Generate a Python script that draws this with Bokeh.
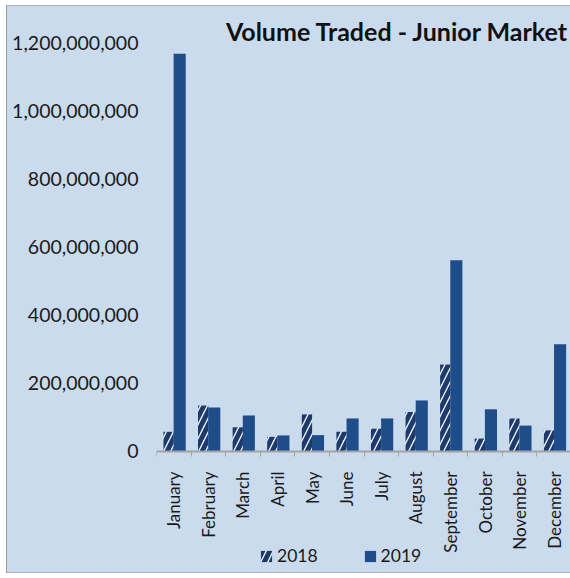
import math
from bokeh.plotting import figure
from bokeh.models import (ColumnDataSource, Range1d, FixedTicker, NumeralTickFormatter,
                          Label, Legend, LegendItem)
from bokeh.transform import dodge
from bokeh.embed import file_html
from bokeh.resources import INLINE

months = ["January", "February", "March", "April", "May", "June", "July",
          "August", "September", "October", "November", "December"]
vol_2018 = [58e6, 135e6, 71e6, 43e6, 109e6, 58e6, 67e6, 116e6, 256e6, 38e6, 97e6, 62e6]
vol_2019 = [1170e6, 129e6, 106e6, 47e6, 48e6, 97e6, 97e6, 150e6, 562e6, 124e6, 76e6, 315e6]
y_ticks = [0, 200e6, 400e6, 600e6, 800e6, 1000e6, 1200e6]
title_text = "Volume Traded - Junior Market"

pos = [i + 0.5 for i in range(len(months))]
src = ColumnDataSource(dict(pos=pos, month=months, v2018=vol_2018, v2019=vol_2019))

BG = "#cbdbee"
FONT = "Lato"

p = figure(width=564, height=568, output_backend="svg", toolbar_location=None,
           x_range=Range1d(0, 12), y_range=Range1d(-362e6, 1294e6),
           min_border_left=149, min_border_right=0, min_border_top=5, min_border_bottom=0,
           background_fill_color=None, border_fill_color=None, outline_line_color=None,
           margin=(5, 0, 5, 6))
p.styles = {"background-color": BG,
            "border-left": "1px solid #9a9a9a", "border-top": "1px solid #b0b0b0",
            "border-bottom": "1px solid #b0b0b0"}

r18 = p.vbar(x=dodge("pos", -0.15, range=p.x_range), top="v2018", width=0.30, source=src,
             fill_color="#f6f8fb", line_color=None, hatch_pattern="/",
             hatch_color="#1c3a6c", hatch_weight=5, hatch_scale=14)
r19 = p.vbar(x=dodge("pos", 0.17, range=p.x_range), top="v2019", width=0.35, source=src,
             fill_color="#1f4d8a", line_color=None)

p.xgrid.visible = False
p.ygrid.visible = False

# y axis
p.yaxis.ticker = FixedTicker(ticks=y_ticks)
p.yaxis.formatter = NumeralTickFormatter(format="0,0")
p.yaxis.axis_line_color = None
p.yaxis.major_tick_line_color = None
p.yaxis.minor_tick_line_color = None
p.yaxis.major_tick_out = 0
p.yaxis.major_label_standoff = 18
p.yaxis.major_label_text_font = FONT
p.yaxis.major_label_text_font_size = "19.5px"
p.yaxis.major_label_text_color = "#1a1a1a"

# x axis, drawn at value 0 inside the frame
p.xaxis.fixed_location = 0
p.xaxis.ticker = FixedTicker(ticks=pos, minor_ticks=list(range(13)))
p.xaxis.major_label_overrides = {pp: m for pp, m in zip(pos, months)}
p.xaxis.major_label_orientation = math.pi / 2
p.xaxis.axis_line_color = "#a3a3a3"
p.xaxis.axis_line_width = 2
p.xaxis.major_tick_line_color = None
p.xaxis.major_tick_out = 0
p.xaxis.major_tick_in = 0
p.xaxis.minor_tick_line_color = "#a3a3a3"
p.xaxis.minor_tick_out = 5
p.xaxis.minor_tick_in = 0
p.xaxis.major_label_standoff = 15
p.xaxis.major_label_text_font = FONT
p.xaxis.major_label_text_font_size = "17px"
p.xaxis.major_label_text_color = "#1a1a1a"

# title inside the plot area
p.add_layout(Label(x=11.93, y=1236e6, text=title_text, text_align="right",
                   text_baseline="middle", text_font=FONT, text_font_style="bold",
                   text_font_size="25px", text_color="#111111"))

legend = Legend(items=[LegendItem(label="2018", renderers=[r18]),
                       LegendItem(label="2019", renderers=[r19])],
                orientation="horizontal", location=(103, 8),
                glyph_width=14, glyph_height=14, label_standoff=4, spacing=45,
                padding=0, margin=0, border_line_color=None, background_fill_alpha=0,
                label_text_font=FONT, label_text_font_size="17.5px", label_text_color="#1a1a1a")
p.add_layout(legend, "center")

open("out.html", "w").write(file_html(p, INLINE))
